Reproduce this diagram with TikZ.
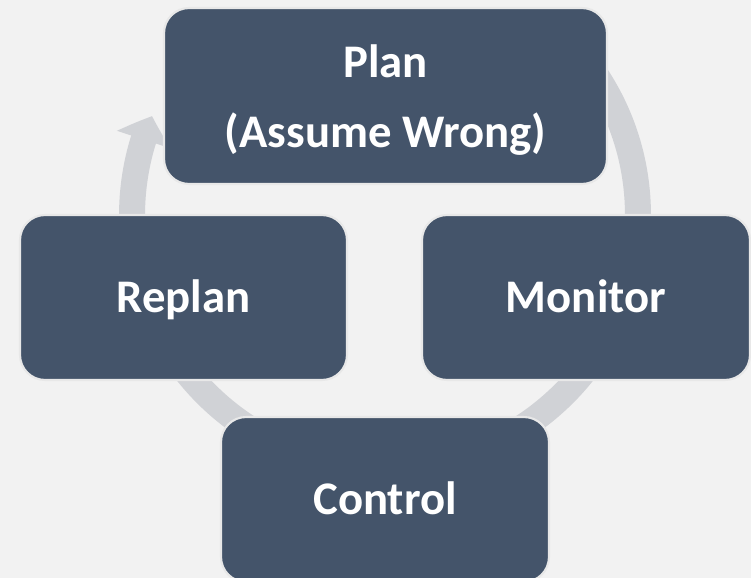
\documentclass[tikz,border=0pt]{standalone}
\usepackage{fontspec}
\setmainfont{Carlito}
\usepackage{xcolor}
\usepackage{tikz}
\usetikzlibrary{arrows.meta,bending}

\definecolor{cyclebg}{RGB}{242,242,242}
\definecolor{cyclering}{RGB}{208,210,214}
\definecolor{stagefill}{RGB}{68,84,106}
\definecolor{stageline}{RGB}{232,232,232}

\tikzset{
  stage/.style={draw=stageline, line width=1.2pt, fill=stagefill, rounded corners=0.5cm,
    text=white, font=\fontsize{26.6}{39.7}\selectfont\bfseries, align=center,
    text depth=0pt},
  oneline/.style={text height=17pt}
}

\begin{document}
\begin{tikzpicture}[x=0.02cm,y=0.02cm]
\useasboundingbox (0,0) rectangle (751,-578);
\fill[cyclebg] (0,0) rectangle (751,-578);

% the grey cycle arrow behind the boxes, its tail hidden under the plan box
\draw[cyclering, line width=0.52cm, -{Triangle[width=1.1cm,length=0.5cm,bend]}]
  (385,-215) ++(40:5.06cm) arc[start angle=40, end angle=-203, radius=5.06cm];

\node[stage, minimum width=8.86cm, minimum height=3.52cm] (plan) at (385.5,-96) {Plan\\(Assume Wrong)};
\node[stage, oneline, minimum width=6.54cm, minimum height=3.3cm] (replan) at (183.5,-297.5) {Replan};
\node[stage, oneline, minimum width=6.56cm, minimum height=3.3cm] (monitor) at (586,-297.5) {Monitor};
\node[stage, oneline, minimum width=6.56cm, minimum height=3.3cm] (control) at (385,-499.5) {Control};
\end{tikzpicture}
\end{document}
